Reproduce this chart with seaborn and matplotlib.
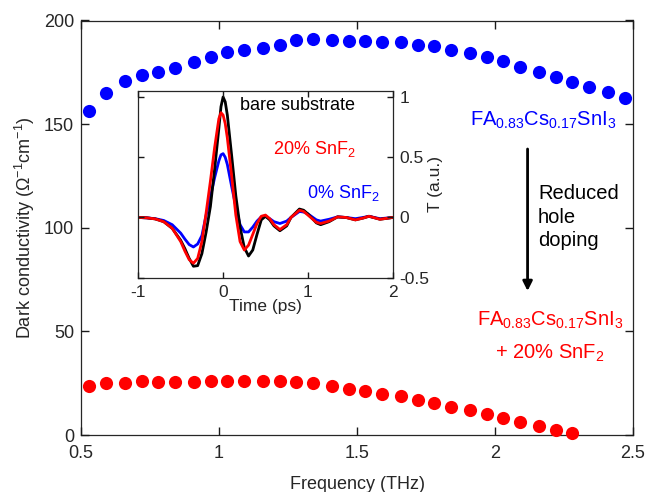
import matplotlib
matplotlib.use("Agg")
import matplotlib.pyplot as plt
import seaborn as sns
import pandas as pd

# dark conductivity spectra
freq = [0.53, 0.59, 0.66, 0.72, 0.78, 0.84, 0.91, 0.97, 1.03, 1.09, 1.16, 1.22,
        1.28, 1.34, 1.41, 1.47, 1.53, 1.59, 1.66, 1.72, 1.78, 1.84, 1.91, 1.97,
        2.03, 2.09, 2.16, 2.22, 2.28, 2.34, 2.41, 2.47]
sigma_0pct = [156.4, 165.2, 170.9, 173.5, 175.2, 177.3, 180.2, 182.4, 184.7, 185.9,
              186.7, 188.3, 190.6, 191.2, 190.7, 190.1, 190.1, 189.8, 189.5, 188.2,
              187.5, 185.9, 184.3, 182.4, 180.4, 177.5, 175.2, 172.7, 170.4, 168.1,
              165.5, 162.6]
sigma_20pct = [23.5, 25.3, 25.1, 26.0, 25.8, 25.6, 25.8, 26.1, 26.1, 26.1, 26.1, 26.0,
               25.6, 25.2, 23.6, 22.2, 21.3, 20.0, 18.7, 17.0, 15.4, 13.6, 11.9, 10.1,
               8.4, 6.3, 4.5, 2.6, 1.0]

# THz transients for the inset
time_ps = [-1.0, -0.9, -0.8, -0.7, -0.6, -0.5, -0.45, -0.4, -0.35, -0.3, -0.25, -0.2,
           -0.15, -0.1, -0.05, -0.025, 0.0, 0.025, 0.05, 0.1, 0.15, 0.2, 0.25, 0.3,
           0.35, 0.4, 0.45, 0.5, 0.55, 0.6, 0.67, 0.75, 0.8, 0.9, 0.95, 1.0, 1.1,
           1.15, 1.25, 1.35, 1.45, 1.56, 1.65, 1.72, 1.85, 2.0]
T_bare = [0.0, -0.003, -0.012, -0.035, -0.09, -0.19, -0.26, -0.34, -0.405, -0.40,
          -0.30, -0.12, 0.09, 0.40, 0.74, 0.92, 1.0, 0.96, 0.85, 0.52, 0.18, -0.08,
          -0.25, -0.32, -0.27, -0.14, -0.02, 0.01, -0.02, -0.07, -0.11, -0.07, 0.0,
          0.07, 0.06, 0.03, -0.045, -0.06, -0.035, 0.005, 0.0, -0.02, -0.005, 0.01,
          -0.015, 0.0]
T_20pct = [0.0, -0.003, -0.012, -0.035, -0.09, -0.2, -0.28, -0.35, -0.38, -0.34,
           -0.2, 0.04, 0.3, 0.58, 0.82, 0.87, 0.85, 0.78, 0.66, 0.35, 0.02, -0.2,
           -0.27, -0.23, -0.14, -0.05, 0.01, 0.02, -0.01, -0.06, -0.10, -0.06, 0.0,
           0.06, 0.05, 0.02, -0.04, -0.05, -0.03, 0.005, 0.0, -0.02, -0.005, 0.01,
           -0.015, 0.0]
T_0pct = [0.0, -0.003, -0.01, -0.025, -0.06, -0.13, -0.18, -0.225, -0.245, -0.22,
          -0.15, 0.02, 0.17, 0.33, 0.47, 0.52, 0.53, 0.5, 0.44, 0.26, 0.09, -0.06,
          -0.12, -0.12, -0.08, -0.03, 0.005, 0.01, -0.01, -0.035, -0.05, -0.03, 0.0,
          0.05, 0.045, 0.03, -0.02, -0.03, -0.015, 0.005, 0.0, -0.01, 0.0, 0.01,
          -0.01, 0.0]

sns.set_theme(style="ticks")
axis_col = '#262626'
plt.rcParams.update({
    'font.family': ['Liberation Sans', 'DejaVu Sans'],
    'mathtext.fontset': 'custom',
    'mathtext.rm': 'Liberation Sans',
    'mathtext.it': 'Liberation Sans:italic',
    'mathtext.default': 'regular',
    'axes.axisbelow': False,
})

fig = plt.figure(figsize=(6.47, 4.92), dpi=100)


def matlab_box(a, length):
    # inward ticks on all four sides, like a boxed MATLAB axes
    a.tick_params(which='major', direction='in', length=length, width=1.0,
                  color='#1a1a1a', bottom=True, top=True, left=True, right=True)
    for sp in a.spines.values():
        sp.set_visible(True)
        sp.set_color(axis_col)
        sp.set_linewidth(0.9)


# main axes
ax = fig.add_axes([81 / 647, 1 - 435 / 492, 552 / 647, 414.5 / 492])
sns.scatterplot(x=freq, y=sigma_0pct, color='#0000ff', s=90, linewidth=0,
                clip_on=False, ax=ax, zorder=3)
sns.scatterplot(x=freq[:len(sigma_20pct)], y=sigma_20pct, color='#ff0000', s=90,
                linewidth=0, clip_on=False, ax=ax, zorder=3)
ax.set_xlim(0.5, 2.5)
ax.set_ylim(0, 200)
ax.set_xticks([0.5, 1, 1.5, 2, 2.5])
ax.set_xticklabels(['0.5', '1', '1.5', '2', '2.5'])
ax.set_yticks([0, 50, 100, 150, 200])
matlab_box(ax, 5.5)
ax.tick_params(labelsize=13, labelcolor=axis_col)
ax.tick_params(axis='x', pad=7)
ax.tick_params(axis='y', pad=5)
ax.set_xlabel('Frequency (THz)', fontsize=13, color=axis_col)
ax.set_ylabel('Dark conductivity (Ω$^{-1}$cm$^{-1}$)', fontsize=13, color=axis_col)
ax.xaxis.set_label_coords(0.5, -0.1)
ax.yaxis.set_label_coords(-0.08, 0.5)

# annotations
ax.text(2.174, 152, 'FA$_{0.83}$Cs$_{0.17}$SnI$_3$', color='#0000ff', fontsize=14.5,
        ha='center', va='center')
ax.annotate('', xy=(2.118, 69.5), xytext=(2.118, 138),
            arrowprops=dict(arrowstyle='-|>', color='black', lw=2,
                            mutation_scale=14, shrinkA=0, shrinkB=0))
ax.text(2.156, 105, 'Reduced\nhole\ndoping', color='black', fontsize=14.5,
        ha='left', va='center', linespacing=1.3)
ax.text(2.199, 55.4, 'FA$_{0.83}$Cs$_{0.17}$SnI$_3$', color='#ff0000', fontsize=14.5,
        ha='center', va='center')
ax.text(2.199, 39.5, '+ 20% SnF$_2$', color='#ff0000', fontsize=14.5,
        ha='center', va='center')

# inset
ins = fig.add_axes([138.3 / 647, 1 - 277.7 / 492, 254.4 / 647, 186.7 / 492])
ins.set_facecolor('white')
sns.lineplot(x=time_ps, y=T_0pct, color='#0000ff', lw=2, sort=False,
             estimator=None, ax=ins)
sns.lineplot(x=time_ps, y=T_bare, color='black', lw=2, sort=False,
             estimator=None, ax=ins)
sns.lineplot(x=time_ps, y=T_20pct, color='#ff0000', lw=2, sort=False,
             estimator=None, ax=ins)
ins.set_xlim(-1, 2)
ins.set_ylim(-0.5, 1.05)
ins.set_xticks([-1, 0, 1, 2])
ins.set_yticks([-0.5, 0, 0.5, 1])
ins.set_yticklabels(['-0.5', '0', '0.5', '1'])
ins.set_xticklabels(['-1', '0', '1', '2'])
matlab_box(ins, 4)
ins.yaxis.set_label_position('right')
ins.tick_params(axis='y', labelleft=False, labelright=True)
ins.tick_params(labelsize=12.5, labelcolor=axis_col)
ins.tick_params(axis='x', pad=5)
ins.tick_params(axis='y', pad=5)
ins.set_xlabel('Time (ps)', fontsize=12.5, color=axis_col)
ins.set_ylabel('T (a.u.)', fontsize=12.5, color=axis_col, rotation=90)
ins.xaxis.set_label_coords(0.5, -0.115)
ins.yaxis.set_label_coords(1.14, 0.5)

ins.text(0.2, 0.93, 'bare substrate', color='black', fontsize=13, ha='left', va='center')
ins.text(0.59, 0.57, '20% SnF$_2$', color='#ff0000', fontsize=13, ha='left', va='center')
ins.text(0.99, 0.2, '0% SnF$_2$', color='#0000ff', fontsize=13, ha='left', va='center')

fig.savefig('out.png', dpi=100)
